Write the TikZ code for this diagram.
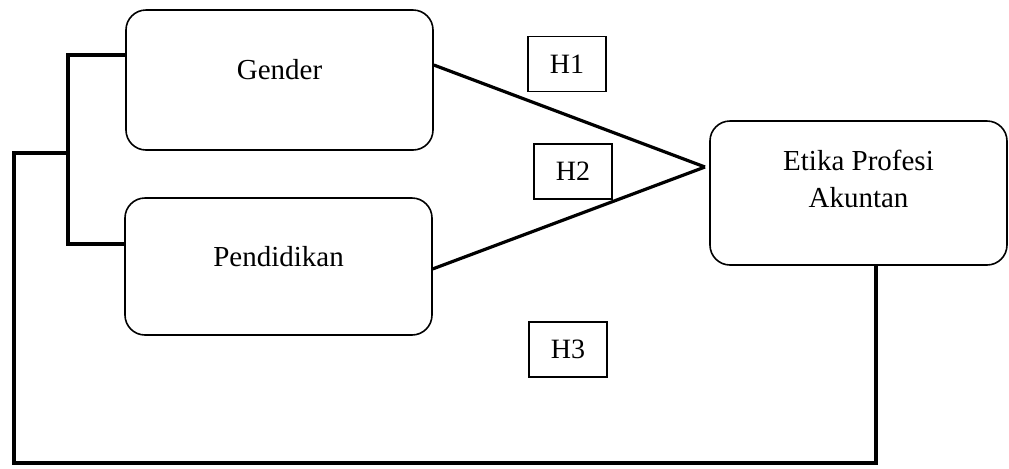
\documentclass[tikz,border=0pt]{standalone}
\usepackage{fontspec}
\setmainfont{Liberation Serif}
\begin{document}
\begin{tikzpicture}[x=0.5pt, y=-0.5pt,
    var/.style={draw, rounded corners=10pt, line width=0.8pt, font=\fontsize{14.5}{18.5}\selectfont},
    hyp/.style={draw, line width=0.8pt, minimum width=39pt, minimum height=27.5pt, inner sep=0pt, font=\fontsize{14}{17}\selectfont},
    link/.style={line width=1.6pt}]
    \useasboundingbox (0,0) rectangle (1009,468);

    \node[var, minimum width=153.5pt, minimum height=70pt, text height=10pt, text depth=10.4pt] (1) at (279.5,80) {Gender};
    \node[var, minimum width=153.5pt, minimum height=68.5pt, text height=10pt, text depth=10pt] (2) at (278.5,266.5) {Pendidikan};
    \node[var, minimum width=148.5pt, minimum height=72pt, align=center, text depth=14pt] (3) at (858.5,193) {Etika Profesi\\Akuntan};

    \node[hyp] (h1) at (567,64) {H1};
    \node[hyp] (h2) at (573,171.5) {H2};
    \node[hyp] (h3) at (568,349.5) {H3};

    \coordinate (tip) at (705,167);
    \coordinate (brk) at (68,153);
    \coordinate (low) at (14,463);

    \draw[link] ([yshift=7.5pt]1.east) -- (tip);
    \draw[link] ([yshift=-1.2pt]2.east) -- (tip);

    \draw[link] ([yshift=12.5pt]1.west) -| (brk) |- ([yshift=11.25pt]2.west);
    \draw[link] (brk) -| (low) -| ([xshift=8.75pt]3.south);
\end{tikzpicture}
\end{document}
